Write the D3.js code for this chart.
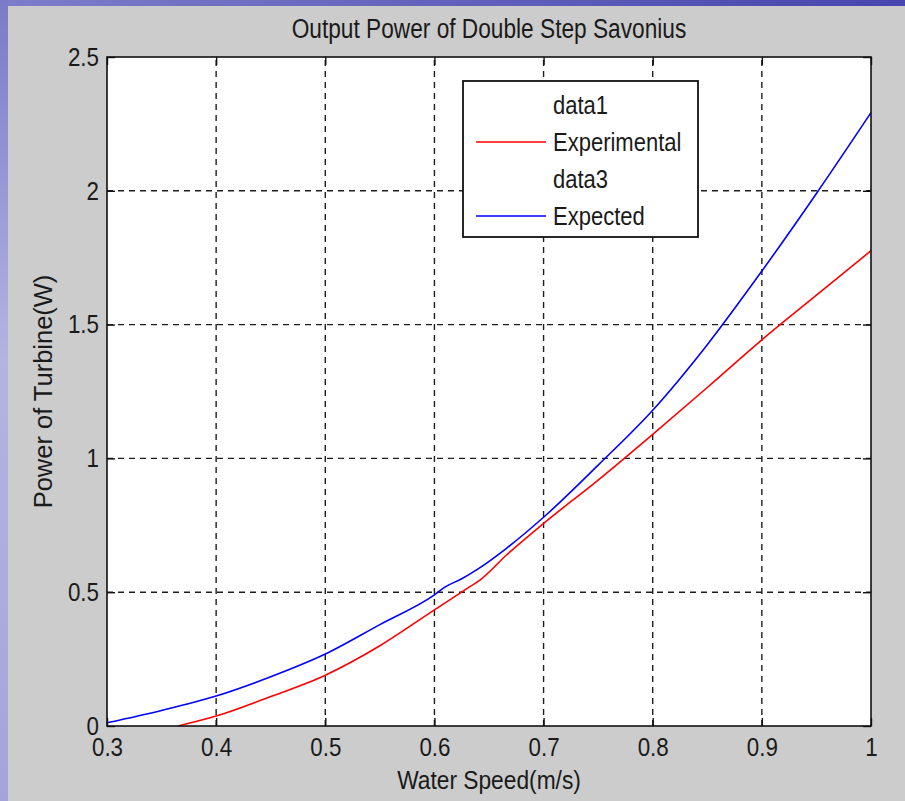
<!DOCTYPE html>
<html>
<head>
<meta charset="utf-8">
<script src="https://cdn.jsdelivr.net/npm/d3@7"></script>
<style>
  html, body { margin: 0; padding: 0; background: #cccccc; }
  svg { display: block; }
  text { font-family: "Liberation Sans", Arial, Helvetica, sans-serif; fill: #1a1a1a; }
</style>
</head>
<body>
<svg id="chart" width="905" height="801"></svg>
<script>
// Water speed (m/s) and measured turbine power (W)
const experimentalSpeed = [0.365, 0.40, 0.45, 0.50, 0.55, 0.60, 0.63, 0.642, 0.666, 0.70, 0.75, 0.80, 0.85, 0.90, 0.95, 1.00];
const experimentalPower = [0.000, 0.037, 0.110, 0.190, 0.300, 0.434, 0.514, 0.546, 0.639, 0.757, 0.919, 1.090, 1.265, 1.443, 1.610, 1.776];

// Water speed (m/s) and theoretical turbine power (W)
const expectedSpeed = [0.30, 0.35, 0.40, 0.45, 0.50, 0.55, 0.60, 0.61, 0.625, 0.64, 0.666, 0.70, 0.75, 0.80, 0.85, 0.90, 0.95, 1.00];
const expectedPower = [0.012, 0.058, 0.112, 0.184, 0.269, 0.379, 0.490, 0.520, 0.550, 0.587, 0.664, 0.780, 0.975, 1.180, 1.425, 1.700, 1.990, 2.292];

const xTicks = [0.3, 0.4, 0.5, 0.6, 0.7, 0.8, 0.9, 1.0];
const xTickLabels = ["0.3", "0.4", "0.5", "0.6", "0.7", "0.8", "0.9", "1"];
const yTicks = [0, 0.5, 1, 1.5, 2, 2.5];
const yTickLabels = ["0", "0.5", "1", "1.5", "2", "2.5"];

const legendLabels = ["data1", "Experimental", "data3", "Expected"];
const legendColors = [null, "#ff0000", null, "#0000ff"];

const titleText = "Output Power of Double Step Savonius";
const xLabelText = "Water Speed(m/s)";
const yLabelText = "Power of Turbine(W)";

(function draw() {
  const svg = d3.select("#chart");
  const W = 905, H = 801;

  // slide backdrop visible along the top and left edges
  const defs = svg.append("defs");
  const gTop = defs.append("linearGradient").attr("id", "topBand").attr("x1", 0).attr("x2", 1).attr("y1", 0).attr("y2", 0);
  gTop.append("stop").attr("offset", 0).attr("stop-color", "#7d7dca");
  gTop.append("stop").attr("offset", 1).attr("stop-color", "#4646ae");
  const gLeft = defs.append("linearGradient").attr("id", "leftBand").attr("x1", 0).attr("x2", 0).attr("y1", 0).attr("y2", 1);
  gLeft.append("stop").attr("offset", 0).attr("stop-color", "#7a7ac8");
  gLeft.append("stop").attr("offset", 0.45).attr("stop-color", "#b4b4e2");
  gLeft.append("stop").attr("offset", 1).attr("stop-color", "#a4a4da");

  svg.append("rect").attr("x", 0).attr("y", 0).attr("width", W).attr("height", H).attr("fill", "#cccccc");
  svg.append("rect").attr("x", 0).attr("y", 0).attr("width", W).attr("height", 6).attr("fill", "url(#topBand)");
  svg.append("rect").attr("x", 0).attr("y", 0).attr("width", 8).attr("height", H).attr("fill", "url(#leftBand)");

  // plot area
  const pLeft = 107, pRight = 871, pTop = 57, pBottom = 726;
  const x = d3.scaleLinear().domain([0.3, 1.0]).range([pLeft, pRight]);
  const y = d3.scaleLinear().domain([0, 2.5]).range([pBottom, pTop]);

  svg.append("rect").attr("x", pLeft).attr("y", pTop)
    .attr("width", pRight - pLeft).attr("height", pBottom - pTop).attr("fill", "#ffffff");

  // squeeze text horizontally along its run
  function squeeze(sel, factor) {
    sel.each(function () {
      const len = this.getComputedTextLength();
      d3.select(this).attr("textLength", len * factor).attr("lengthAdjust", "spacingAndGlyphs");
    });
  }

  // dashed grid
  const grid = svg.append("g").attr("stroke", "#1e1e1e").attr("stroke-width", 1.4)
    .attr("stroke-dasharray", "6 5").attr("fill", "none");
  grid.selectAll("line.vx").data(xTicks.slice(1, -1)).join("line").attr("class", "vx")
    .attr("x1", d => x(d)).attr("x2", d => x(d)).attr("y1", pBottom).attr("y2", pTop);
  grid.selectAll("line.hy").data(yTicks.slice(1, -1)).join("line").attr("class", "hy")
    .attr("y1", d => y(d)).attr("y2", d => y(d)).attr("x1", pLeft).attr("x2", pRight);

  // curves
  const line = d3.line().x(d => x(d[0])).y(d => y(d[1])).curve(d3.curveMonotoneX);
  const expData = experimentalSpeed.map((s, i) => [s, experimentalPower[i]]);
  const expectData = expectedSpeed.map((s, i) => [s, expectedPower[i]]);
  svg.append("path").datum(expData).attr("d", line)
    .attr("fill", "none").attr("stroke", "#ff0000").attr("stroke-width", 1.6);
  svg.append("path").datum(expectData).attr("d", line)
    .attr("fill", "none").attr("stroke", "#0000ff").attr("stroke-width", 1.6);

  // axes with inward ticks on all four sides
  const tickLen = 8;
  const xAxisB = d3.axisBottom(x).tickValues(xTicks).tickSize(-tickLen).tickPadding(12)
    .tickFormat((d, i) => xTickLabels[i]);
  const xAxisT = d3.axisTop(x).tickValues(xTicks).tickSize(-tickLen).tickFormat("");
  const yAxisL = d3.axisLeft(y).tickValues(yTicks).tickSize(-tickLen).tickPadding(8)
    .tickFormat((d, i) => yTickLabels[i]);
  const yAxisR = d3.axisRight(y).tickValues(yTicks).tickSize(-tickLen).tickFormat("");

  function styleAxis(g) {
    g.select(".domain").remove();
    g.selectAll(".tick line").attr("stroke", "#111").attr("stroke-width", 1.4);
    g.selectAll(".tick text").attr("font-size", 26).attr("fill", "#1a1a1a")
      .attr("font-family", "'Liberation Sans', Arial, sans-serif");
  }
  const gxB = svg.append("g").attr("transform", `translate(0,${pBottom})`).call(xAxisB).call(styleAxis);
  svg.append("g").attr("transform", `translate(0,${pTop})`).call(xAxisT).call(styleAxis);
  const gyL = svg.append("g").attr("transform", `translate(${pLeft},0)`).call(yAxisL).call(styleAxis);
  svg.append("g").attr("transform", `translate(${pRight},0)`).call(yAxisR).call(styleAxis);
  gxB.selectAll(".tick text").attr("dy", "0.71em");
  squeeze(gxB.selectAll(".tick text"), 0.86);
  squeeze(gyL.selectAll(".tick text"), 0.86);

  // axes box
  svg.append("rect").attr("x", pLeft).attr("y", pTop)
    .attr("width", pRight - pLeft).attr("height", pBottom - pTop)
    .attr("fill", "none").attr("stroke", "#111").attr("stroke-width", 1.6);

  // title and axis labels
  const title = svg.append("text").attr("x", (pLeft + pRight) / 2).attr("y", 38)
    .attr("text-anchor", "middle").attr("font-size", 27).text(titleText);
  squeeze(title, 0.84);

  const xl = svg.append("text").attr("x", (pLeft + pRight) / 2).attr("y", 789)
    .attr("text-anchor", "middle").attr("font-size", 25).text(xLabelText);
  squeeze(xl, 0.91);

  const yl = svg.append("text")
    .attr("transform", `translate(52,${(pTop + pBottom) / 2}) rotate(-90)`)
    .attr("text-anchor", "middle").attr("font-size", 26).text(yLabelText);
  squeeze(yl, 0.98);

  // legend
  const lg = svg.append("g");
  const lgX = 463, lgY = 81, lgW = 235, lgH = 156;
  lg.append("rect").attr("x", lgX).attr("y", lgY).attr("width", lgW).attr("height", lgH)
    .attr("fill", "#ffffff").attr("stroke", "#111").attr("stroke-width", 1.8);
  const rowY = d3.scalePoint().domain(d3.range(legendLabels.length)).range([lgY + 24, lgY + 135]);
  const rows = lg.selectAll("g.row").data(legendLabels.map((t, i) => ({ t, c: legendColors[i], i })))
    .join("g").attr("class", "row")
    .attr("transform", d => `translate(0,${rowY(d.i)})`);
  rows.filter(d => d.c !== null).append("line")
    .attr("x1", lgX + 13).attr("x2", lgX + 83).attr("y1", 0).attr("y2", 0)
    .attr("stroke", d => d.c).attr("stroke-width", 1.6);
  const lt = rows.append("text").attr("x", lgX + 90).attr("y", 0).attr("dy", "0.36em")
    .attr("font-size", 25).text(d => d.t);
  squeeze(lt, 0.88);
})();
</script>
</body>
</html>
